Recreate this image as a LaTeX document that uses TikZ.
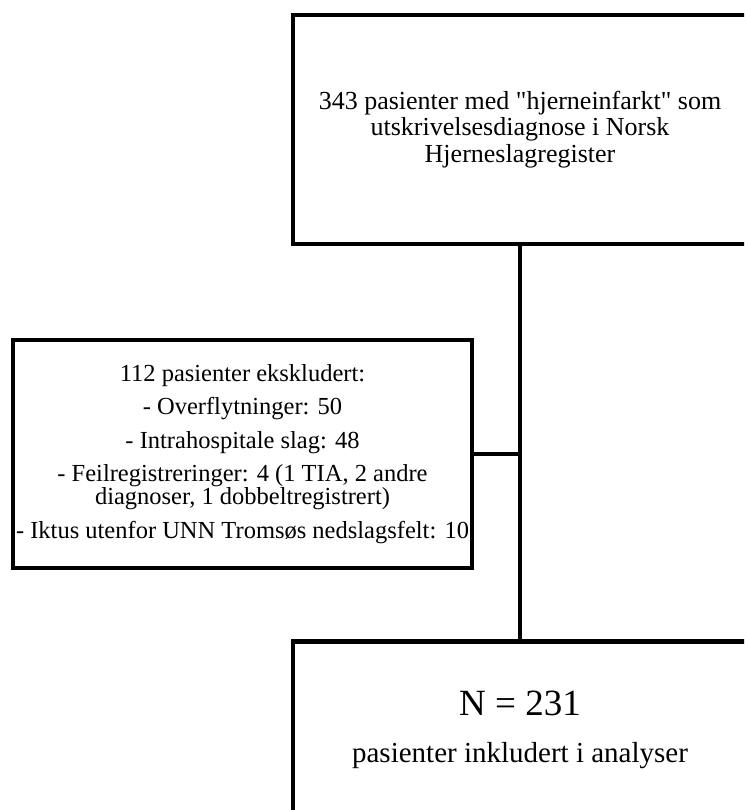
\documentclass[tikz,border=0pt]{standalone}
\usepackage{fontspec}
\setmainfont{Liberation Serif}[Ligatures=TeXOff]
\usetikzlibrary{positioning}
\tikzset{flowbox/.style={draw, line width=4.5pt, align=center, inner sep=0pt},
  link/.style={line width=4pt}}

\begin{document}
\begin{tikzpicture}[x=1pt,y=-1pt]
    \useasboundingbox (0,0) rectangle (744,810);
    \clip (0,0) rectangle (744,810);
    \node[flowbox, minimum width=454pt, minimum height=229pt,
      font=\fontsize{26}{26.5}\selectfont] (cohort) at (520,129.5)
      {343 pasienter med "hjerneinfarkt" som\\utskrivelsesdiagnose i Norsk\\Hjerneslagregister};
    \node[flowbox, minimum width=459pt, minimum height=228pt,
      font=\fontsize{24.5}{23}\selectfont] (excluded) at (242.5,454)
      {112 pasienter ekskludert:\\[10.5pt]
       - Overflytninger: 50\\[10.5pt]
       - Intrahospitale slag: 48\\[10.5pt]
       - Feilregistreringer: 4 (1 TIA, 2 andre\\
       diagnoser, 1 dobbeltregistrert)\\[10.5pt]
       - Iktus utenfor UNN Tromsøs nedslagsfelt: 10};
    \node[flowbox, minimum width=454pt, minimum height=229pt, anchor=north]
      (included) at (520,639) {};
    \node[align=center, inner sep=0pt, font=\fontsize{29}{47}\selectfont]
      (includedtext) at (520,730)
      {{\fontsize{37}{47}\selectfont N = 231}\\
       pasienter inkludert i analyser};
    %\draw[loosely dotted] (0,0) grid[step=50] (744,810);
    \draw[link] (cohort.south) -- (included.north);
    \draw[link] (excluded.east) -- (excluded.east -| cohort.south);
\end{tikzpicture}
\end{document}
